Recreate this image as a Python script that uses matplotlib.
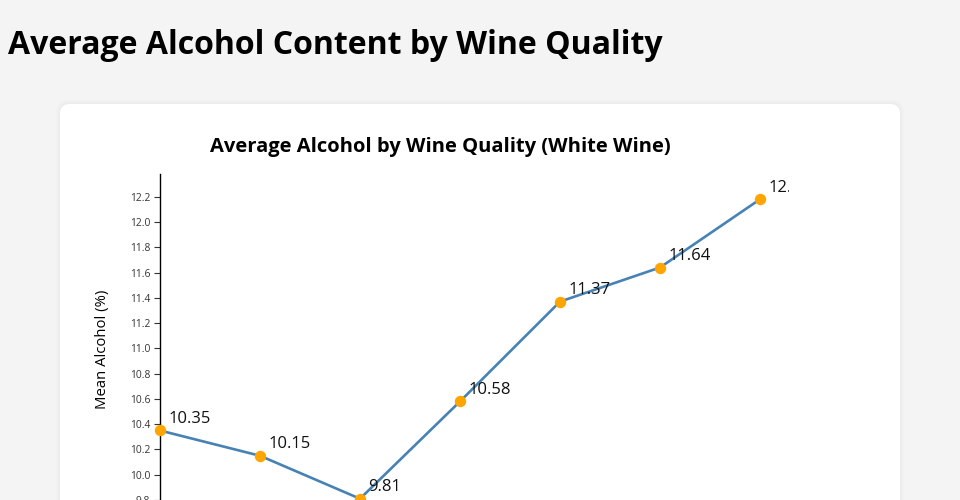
import matplotlib
matplotlib.use("Agg")
import matplotlib.pyplot as plt
import matplotlib.ticker as mticker
from matplotlib.patches import FancyBboxPatch
from matplotlib.transforms import IdentityTransform

# data
quality = [3, 4, 5, 6, 7, 8, 9]
mean_alcohol = [10.35, 10.15, 9.81, 10.58, 11.37, 11.64, 12.18]
y_ticks = [9.8, 10.0, 10.2, 10.4, 10.6, 10.8, 11.0, 11.2, 11.4, 11.6, 11.8, 12.0, 12.2]

plt.rcParams["font.family"] = ["Open Sans", "DejaVu Sans"]

W, H = 960, 500
fig = plt.figure(figsize=(W / 100, H / 100), dpi=100)
fig.patch.set_facecolor("#f4f4f4")

# soft shadow + white card
for grow, col in [(4, "#f1f1f1"), (2, "#ededed")]:
    fig.patches.append(FancyBboxPatch(
        (60 - grow, -60), 840 + 2 * grow, 456 + grow,
        boxstyle=f"round,pad=0,rounding_size={10 + grow}",
        transform=IdentityTransform(), facecolor=col, edgecolor="none", zorder=-6))
card = FancyBboxPatch((60, -60), 840, 456, boxstyle="round,pad=0,rounding_size=10",
                      transform=IdentityTransform(), facecolor="white",
                      edgecolor="none", zorder=-5)
fig.patches.append(card)

fig.text(8 / W, 1 - 45 / H, "Average Alcohol Content by Wine Quality",
         fontsize=23, fontweight="bold", ha="left", va="center")
fig.text(440 / W, 1 - 147 / H, "Average Alcohol by Wine Quality (White Wine)",
         fontsize=14.5, fontweight="bold", ha="center", va="center")

# axes: left 160px, right 789px, top 174px, bottom 524px (off canvas)
ax = fig.add_axes([160 / W, 1 - 524 / H, 629 / W, 350 / H])
ax.set_zorder(2)
ax.set_facecolor("none")
ax.set_xlim(3, 9.29)
ax.set_ylim(9.61, 12.38)

ax.plot(quality, mean_alcohol, color="#4682b4", linewidth=1.9, clip_on=False, zorder=3)
ax.plot(quality, mean_alcohol, "o", color="#ffa500", markersize=7.2, clip_on=False, zorder=4)

for q, v in zip(quality, mean_alcohol):
    ax.annotate(f"{v:.2f}", (q, v), xytext=(6, 2.4), textcoords="offset points",
                fontsize=12, color="#111111", ha="left", va="bottom",
                annotation_clip=False, clip_on=True)

ax.set_yticks(y_ticks)
ax.yaxis.set_major_formatter(mticker.FormatStrFormatter("%.1f"))
ax.tick_params(axis="y", labelsize=7.4, length=4, width=0.8, pad=3,
               colors="#333333")
ax.set_xticks([])
ax.spines[["top", "right"]].set_visible(False)
ax.spines["left"].set_linewidth(1)
ax.set_ylabel("Mean Alcohol (%)", fontsize=10.7, labelpad=14)

fig.savefig("out.png", dpi=100, facecolor=fig.get_facecolor())
